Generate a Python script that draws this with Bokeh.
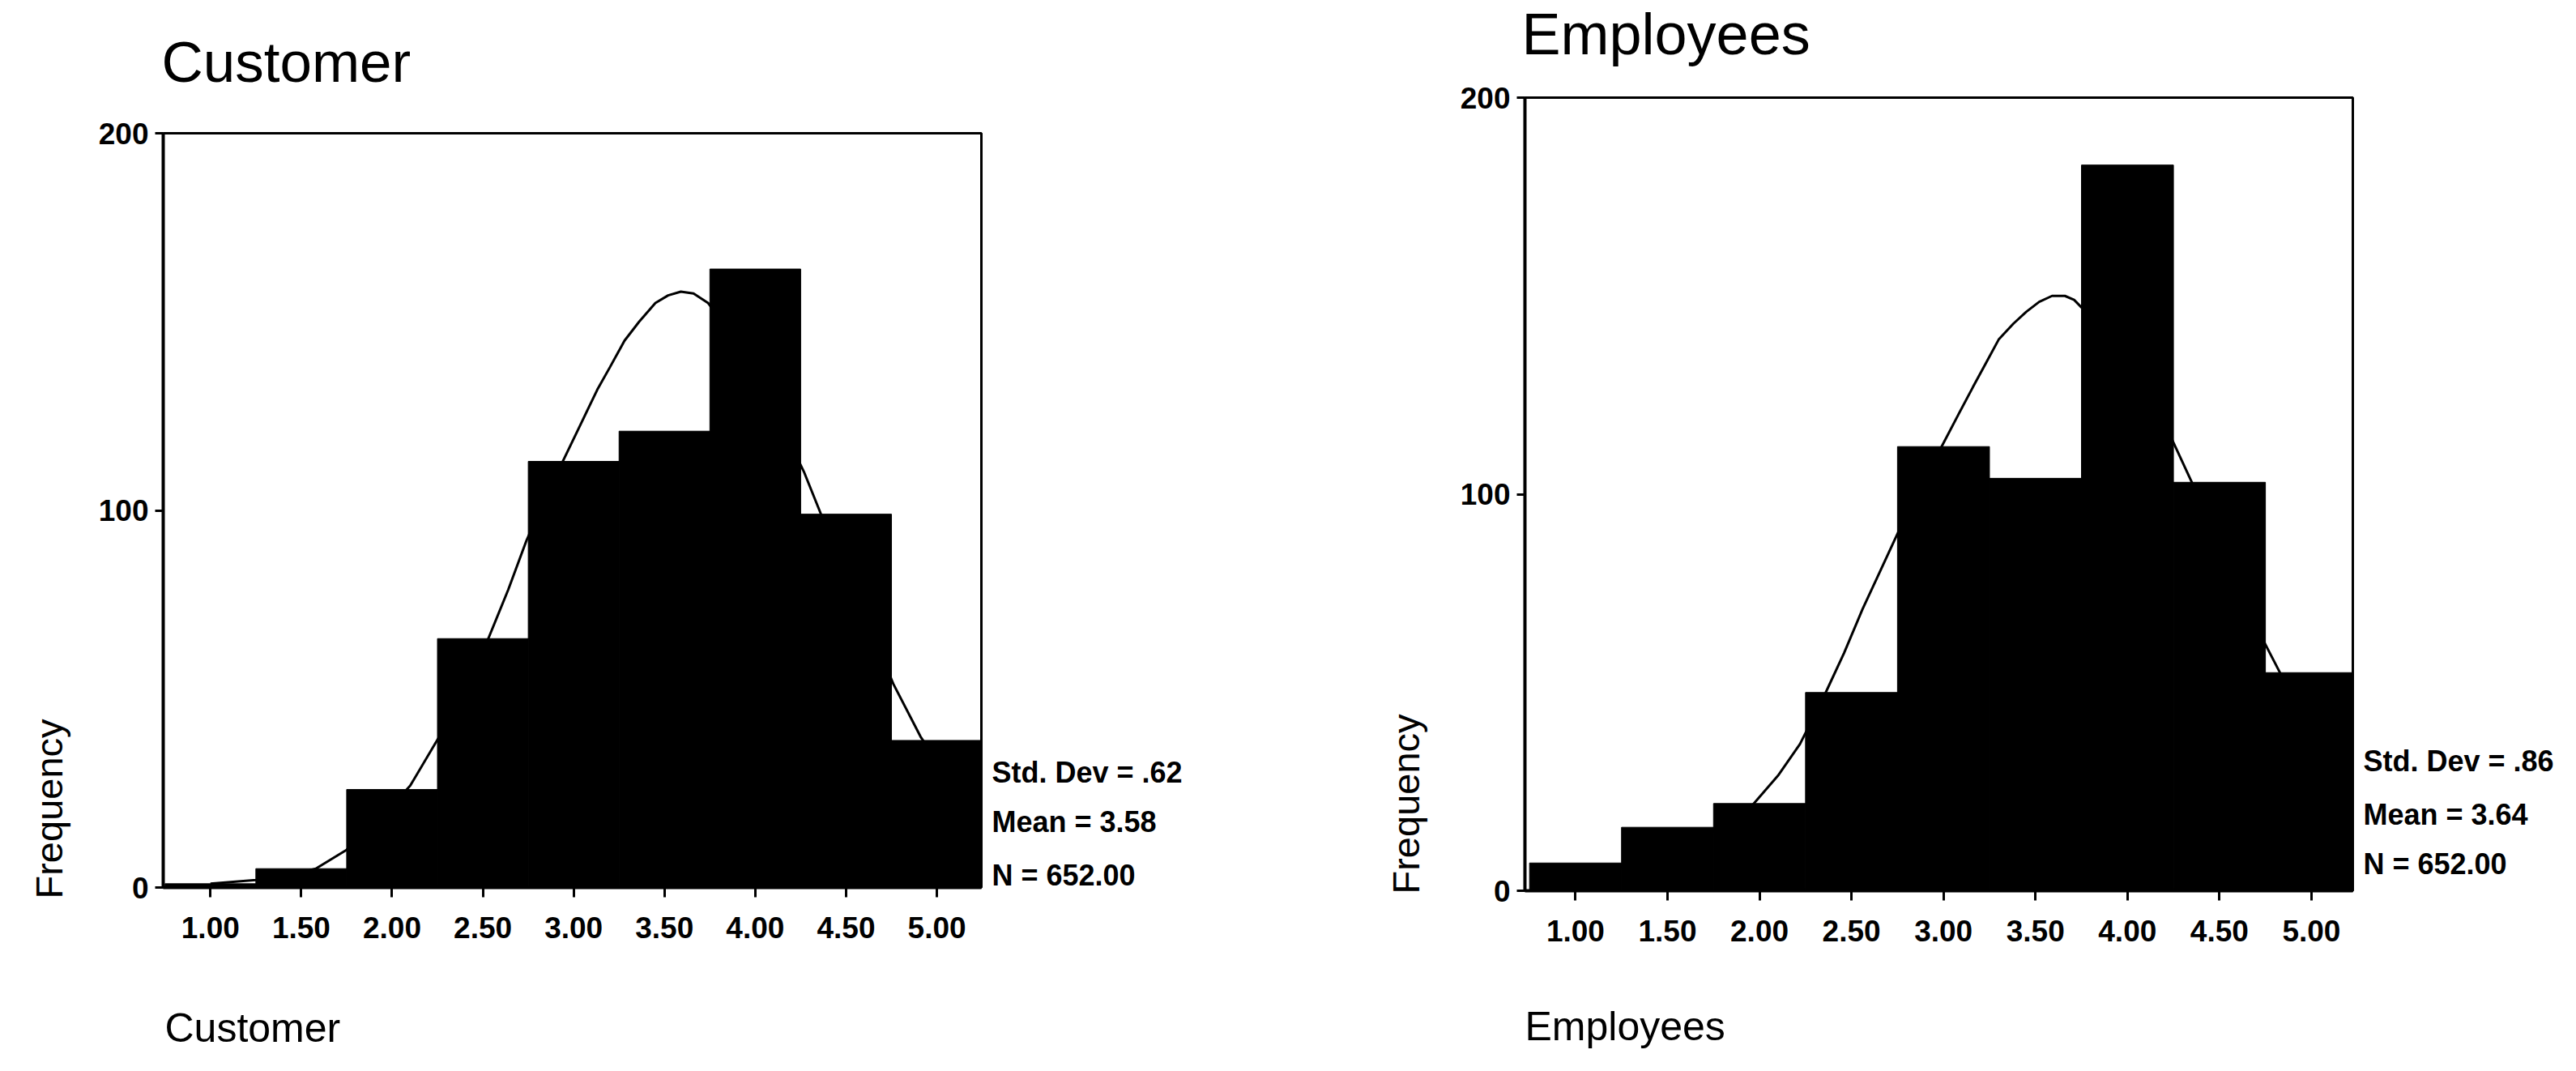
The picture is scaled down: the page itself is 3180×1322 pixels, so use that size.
from bokeh.plotting import figure
from bokeh.models import FixedTicker, Title, Range1d
from bokeh.layouts import row, column
from bokeh.core.properties import value
from bokeh.embed import file_html
from bokeh.resources import INLINE

# ---------------- data ----------------
bin_centers = [1.0, 1.5, 2.0, 2.5, 3.0, 3.5, 4.0, 4.5, 5.0]
bin_width = 0.5
x_tick_labels = ["1.00", "1.50", "2.00", "2.50", "3.00", "3.50", "4.00", "4.50", "5.00"]
y_ticks = [0, 100, 200]
y_axis_title = "Frequency"

customer_counts = [1, 5, 26, 66, 113, 121, 164, 99, 39]
employees_counts = [7, 16, 22, 50, 112, 104, 183, 103, 55]

customer_curve_x = [1.00, 1.25, 1.50, 1.58, 1.75, 1.95, 2.10, 2.26, 2.40, 2.53, 2.64, 2.74, 2.85,
                    2.95, 3.05, 3.13, 3.20, 3.28, 3.36, 3.45, 3.52, 3.59, 3.66, 3.74, 3.90, 4.10,
                    4.27, 4.37, 4.50, 4.64, 4.76, 4.91, 5.05, 5.25]
customer_curve_y = [1, 2, 4, 5, 10, 19, 27, 40, 53, 66, 79, 92, 104,
                    114, 124, 132, 138, 145, 150, 155, 157, 158, 157.5, 155, 145, 127,
                    110, 98, 84, 68, 54, 40, 30, 19]

employees_curve_x = [1.00, 1.25, 1.50, 1.75, 1.96, 2.10, 2.22, 2.36, 2.46, 2.56, 2.65, 2.73, 2.82,
                     2.90, 2.99, 3.08, 3.16, 3.23, 3.30, 3.38, 3.45, 3.52, 3.59, 3.66, 3.71, 3.90,
                     4.10, 4.24, 4.35, 4.50, 4.62, 4.74, 4.84, 5.00, 5.25]
employees_curve_y = [3, 6, 10, 15, 21.5, 29, 37, 50, 60, 71, 80, 88, 97,
                     107, 112, 120, 127, 133, 139, 143, 146, 148.5, 150, 150, 149, 140,
                     125, 114, 103, 86, 74, 63, 54, 42, 26]

customer_stats = ["Std. Dev = .62", "Mean = 3.58", "N = 652.00"]
employees_stats = ["Std. Dev = .86", "Mean = 3.64", "N = 652.00"]

FONT = "Liberation Sans"
TOTAL_H = 1300
TOP_OFFSET = 2    # page offset used when placing the frames
PAD_TOP = 24      # room above each frame for the top tick label
MB_BOTTOM = 90    # room below each frame for ticks and tick labels


def text_fig(width, height, mb_left, mb_right, mb_top=0, mb_bottom=0, y_range=None):
    f = figure(width=width, height=height,
               x_range=Range1d(0, width - mb_left - mb_right),
               y_range=y_range if y_range is not None else Range1d(height - mb_top - mb_bottom, 0),
               output_backend="svg", toolbar_location=None, title=None,
               x_axis_location=None, y_axis_location=None,
               min_border_left=mb_left, min_border_right=mb_right,
               min_border_top=mb_top, min_border_bottom=mb_bottom)
    f.outline_line_color = None
    f.grid.visible = False
    f.background_fill_color = "white"
    f.border_fill_color = "white"
    return f


def make_panel(name, counts, cx, cy, stats, cfg):
    fl, fw, ft, fh = cfg["frame_left"], cfg["frame_w"], cfg["frame_top"], cfg["frame_h"]
    total_w = cfg["total_w"]
    p_w = fl + fw + 2
    p_h = PAD_TOP + fh + MB_BOTTOM
    head_h = ft - TOP_OFFSET - PAD_TOP
    foot_h = TOTAL_H - head_h - p_h

    # ---- header with the title ----
    h = text_fig(p_w, head_h, fl, 2)
    h.text(x=[cfg["title_dx"]], y=[cfg["title_mid"]], text=[name],
           text_font=value(FONT), text_font_size=value(cfg["title_size"]), text_color="black",
           text_baseline="middle", text_align="left")

    # ---- main plot ----
    p = figure(width=p_w, height=p_h, title=None,
               x_range=Range1d(*cfg["xr"]), y_range=Range1d(0, 200),
               output_backend="svg", toolbar_location=None,
               min_border_left=fl, min_border_right=2,
               min_border_top=PAD_TOP, min_border_bottom=MB_BOTTOM)

    p.line(cx, cy, line_width=3, line_color="black")
    p.vbar(x=bin_centers, width=bin_width, top=counts, bottom=0,
           fill_color="black", line_color="black", line_width=1)

    p.xgrid.visible = False
    p.ygrid.visible = False
    p.background_fill_color = "white"
    p.border_fill_color = "white"
    p.outline_line_color = "black"
    p.outline_line_width = 3

    p.xaxis.ticker = FixedTicker(ticks=bin_centers)
    p.xaxis.major_label_overrides = {c: t for c, t in zip(bin_centers, x_tick_labels)}
    p.yaxis.ticker = FixedTicker(ticks=y_ticks)
    p.yaxis.major_label_overrides = {v: str(v) for v in y_ticks}
    for ax in (p.xaxis[0], p.yaxis[0]):
        ax.axis_line_width = 4
        ax.axis_line_color = "black"
        ax.major_tick_line_width = 3
        ax.major_tick_line_color = "black"
        ax.major_tick_in = 0
        ax.minor_tick_in = 0
        ax.minor_tick_out = 0
        ax.major_label_text_font = FONT
        ax.major_label_text_font_size = "37px"
        ax.major_label_text_font_style = "bold"
        ax.major_label_text_color = "black"
    p.xaxis.major_tick_out = 12
    p.xaxis.major_label_standoff = 24
    p.yaxis.major_tick_out = 10
    p.yaxis.major_label_standoff = 8

    # spacer + vertical "Frequency" label, bottom aligned
    p.add_layout(Title(text=" ", text_font_size="1px", standoff=cfg["freq_gap"]), "left")
    p.add_layout(Title(text=y_axis_title, align="left", text_font=FONT, text_font_size="47px",
                       text_font_style="normal", text_color="black", standoff=0,
                       offset=cfg["freq_offset"]), "left")

    # ---- stats column to the right of the frame ----
    s_w = total_w - p_w
    s = text_fig(s_w, p_h, 0, 0, PAD_TOP, MB_BOTTOM, y_range=Range1d(0, 200))
    s.text(x=[11] * len(stats), y=cfg["stat_y"], text=stats,
           text_font=value(FONT), text_font_size=value("36px"), text_font_style="bold",
           text_color="black", text_baseline="middle", text_align="left")

    # ---- footer with the variable name ----
    f = text_fig(p_w, foot_h, fl, 2)
    f.text(x=[cfg["xlab_dx"]], y=[cfg["xlab_mid"]], text=[name],
           text_font=value(FONT), text_font_size=value("50px"), text_color="black",
           text_baseline="middle", text_align="left")

    return column(h, row(p, s), f)


cfg_customer = dict(frame_left=201, frame_w=1010, frame_top=166, frame_h=931, total_w=1690,
                    xr=(0.74, 5.245), title_dx=-2, title_mid=76, title_size="71px",
                    xlab_dx=2, xlab_mid=83,
                    freq_gap=29, freq_offset=-14, stat_y=[30.5, 17.4, 3.2])
cfg_employees = dict(frame_left=192, frame_w=1022, frame_top=122, frame_h=979, total_w=1474,
                     xr=(0.725, 5.225), title_dx=-4, title_mid=41, title_size="72px",
                     xlab_dx=0, xlab_mid=77,
                     freq_gap=35, freq_offset=-4, stat_y=[32.7, 19.2, 6.7])

left = make_panel("Customer", customer_counts, customer_curve_x, customer_curve_y,
                  customer_stats, cfg_customer)
right = make_panel("Employees", employees_counts, employees_curve_x, employees_curve_y,
                   employees_stats, cfg_employees)

layout = row(left, right)
open("out.html", "w").write(file_html(layout, INLINE))
